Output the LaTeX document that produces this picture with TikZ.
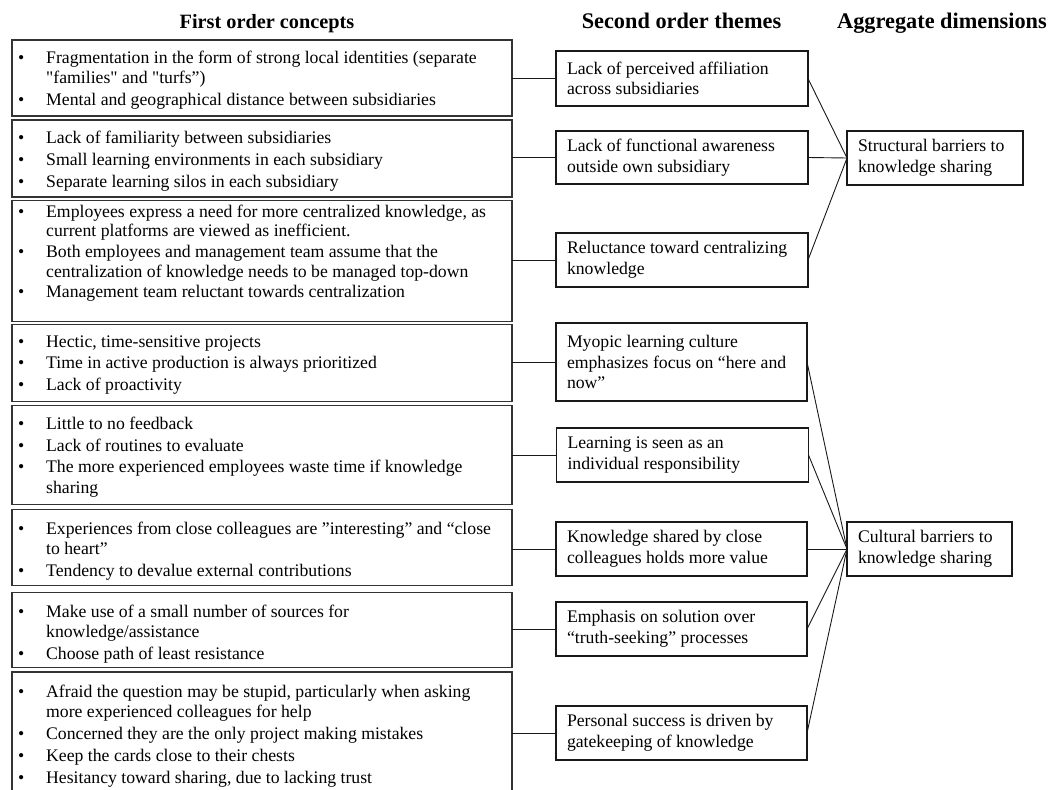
\documentclass[tikz,border=0pt]{standalone}
\usepackage{fontspec}
\setmainfont{Liberation Serif}[Ligatures=TeXOff]
\newcommand\bul{\makebox[28pt][l]{\textbullet}}
\newcommand\cont{\hspace*{28pt}}
\newcommand\nsp{\spaceskip=0pt\xspaceskip=0pt\relax}
\tikzset{
  lbox/.style={draw=black!80, line width=1.1pt, inner sep=0pt, outer sep=0pt},
  ltext/.style={anchor=west, align=left, inner sep=0pt, font=\fontsize{17.7}{20.3}\selectfont},
  mbox/.style={draw=black!90, line width=1.1pt, outer sep=0pt, align=left, inner xsep=11pt, inner ysep=0pt, font=\fontsize{17.7}{20.5}\selectfont},
  head/.style={inner sep=0pt, anchor=base, font=\fontsize{22.3}{24}\selectfont\bfseries},
  conn/.style={draw=black!90, line width=0.9pt}
}
\begin{document}
\begin{tikzpicture}[x=1pt,y=-1pt]
\useasboundingbox (0,0) rectangle (1064,789);
% headers
\node[head, font=\fontsize{20.3}{22}\selectfont\bfseries] (h1) at (267,29) {First order concepts};
\node[head] (h2) at (681.5,29) {Second order themes};
\node[head] (h3) at (942,29) {Aggregate dimensions};
% left boxes
\node[lbox, minimum width=500pt, minimum height=76pt] (c1) at (262,78) {};
\node[lbox, minimum width=500pt, minimum height=77pt] (c2) at (262,158.5) {};
\node[lbox, minimum width=500pt, minimum height=121pt] (c3) at (262,261) {};
\node[lbox, minimum width=500pt, minimum height=77pt] (c4) at (262,363) {};
\node[lbox, minimum width=500pt, minimum height=99pt] (c5) at (262,455) {};
\node[lbox, minimum width=500pt, minimum height=76pt] (c6) at (262,547.5) {};
\node[lbox, minimum width=500pt, minimum height=75pt] (c7) at (262,630) {};
\node[lbox, minimum width=500pt, minimum height=138pt] (c8) at (262,741) {};
% left texts
\node[ltext] (c1t) at (18,80) {\bul Fragmentation in the form of strong local identities (separate\\ \cont "families" and "turfs”)\\[1.5pt] \bul Mental and geographical distance between subsidiaries};
\node[ltext] (c2t) at (18,161) {\bul Lack of familiarity between subsidiaries\\[1.5pt] \bul Small learning environments in each subsidiary\\[1.5pt] \bul Separate learning silos in each subsidiary};
\node[ltext, font=\fontsize{17.7}{19.5}\selectfont] (c3t) at (18,253) {\bul Employees express a need for more centralized knowledge, as\\ \cont current platforms are viewed as inefficient.\\[1.5pt] \bul Both employees and management team assume that the\\ \cont centralization of knowledge needs to be managed top-down\\[1pt] \bul Management team reluctant towards centralization};
\node[ltext] (c4t) at (18,365) {\bul Hectic, time-sensitive projects\\[1.5pt] \bul Time in active production is always prioritized\\[1.5pt] \bul Lack of proactivity};
\node[ltext] (c5t) at (18,457) {\bul Little to no feedback\\[1.5pt] \bul Lack of routines to evaluate\\[1.5pt] \bul The more experienced employees waste time if knowledge\\ \cont sharing};
\node[ltext] (c6t) at (18,551) {\bul Experiences from close colleagues are ”interesting” and “close\\ \cont to heart”\\[1.5pt] \bul Tendency to devalue external contributions};
\node[ltext] (c7t) at (18,634) {\bul Make use of a small number of sources for\\ \cont knowledge/assistance\\[1.5pt] \bul Choose path of least resistance};
\node[ltext] (c8t) at (18,736) {\bul Afraid the question may be stupid, particularly when asking\\ \cont more experienced colleagues for help\\[1.5pt] \bul Concerned they are the only project making mistakes\\[1.5pt] \bul Keep the cards close to their chests\\[1.5pt] \bul Hesitancy toward sharing, due to lacking trust};
% middle boxes
\node[mbox, text width=230pt, minimum height=55pt] (m1) at (682,78.5) {\nsp Lack of perceived affiliation\\ across subsidiaries};
\node[mbox, text width=230pt, minimum height=53pt] (m2) at (682,157.5) {\nsp Lack of functional awareness\\ outside own subsidiary};
\node[mbox, text width=230pt, minimum height=54pt] (m3) at (682,260) {\nsp Reluctance toward centralizing\\ knowledge};
\node[mbox, text width=229pt, minimum height=78pt] (m4) at (681.5,362) {\nsp Myopic learning culture\\ emphasizes focus on “here and\\ now”};
\node[mbox, text width=230pt, minimum height=54pt] (m5) at (682.5,455) {\nsp Learning is seen as an\\ individual responsibility};
\node[mbox, text width=229pt, minimum height=54pt] (m6) at (681.5,549) {\nsp Knowledge shared by close\\ colleagues holds more value};
\node[mbox, text width=229pt, minimum height=54pt] (m7) at (681.5,629) {\nsp Emphasis on solution over\\ “truth-seeking” processes};
\node[mbox, text width=229pt, minimum height=54pt] (m8) at (681.5,733) {\nsp Personal success is driven by\\ gatekeeping of knowledge};
% right boxes
\node[mbox, text width=154pt, minimum height=54pt] (r1) at (935,158) {\nsp Structural barriers to\\ knowledge sharing};
\node[mbox, text width=143pt, minimum height=54pt] (r2) at (929.5,549) {\nsp Cultural barriers to\\ knowledge sharing};
% left to middle connectors
\foreach \i in {1,...,8}{
  \draw[conn] (c\i.east |- m\i.west) -- (m\i.west);
}
% middle to right connectors
\foreach \i in {1,2,3}{
  \draw[conn] (m\i.east) -- (r1.west);
}
\foreach \i in {4,...,8}{
  \draw[conn] (m\i.east) -- (r2.west);
}
\end{tikzpicture}
\end{document}
